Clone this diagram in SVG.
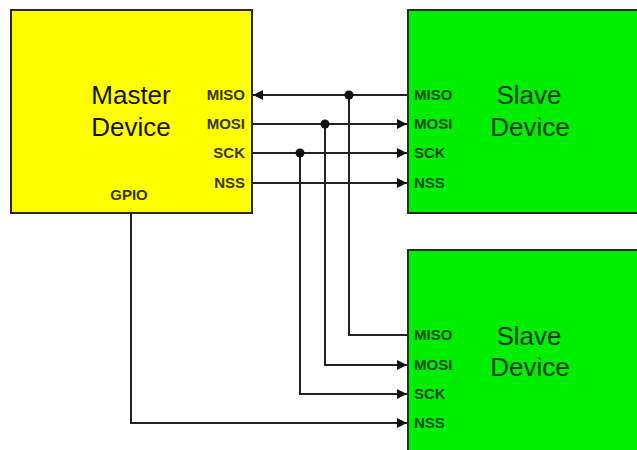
<svg xmlns="http://www.w3.org/2000/svg" width="637" height="450" viewBox="0 0 637 450">
<style>
.box{stroke:#2a2a2a;stroke-width:2}
.m{fill:#ffff00}
.s{fill:#00ee00}
.title{font-family:"Liberation Sans",Arial,sans-serif;font-size:26px;text-anchor:middle}
.mt{fill:#141400}
.st{fill:#073807}
.pin{font-family:"Liberation Sans",Arial,sans-serif;font-size:15px;font-weight:bold}
.mp{fill:#3a3600;text-anchor:end}
.sp{fill:#0b4a0b}
.w{stroke:#222;stroke-width:2;fill:none}
.dot{fill:#111}
</style>
<defs>
<marker id="ah" viewBox="0 0 10 10" refX="10" refY="5" markerWidth="10" markerHeight="10" markerUnits="userSpaceOnUse" orient="auto">
<path d="M0,0 L10,5 L0,10 z" fill="#111"/>
</marker>
</defs>
<rect width="637" height="450" fill="#ffffff"/>
<g id="master">
<rect class="box m" x="11" y="10" width="241" height="203"/>
<text class="title mt" x="131" y="104">Master</text>
<text class="title mt" x="131" y="136">Device</text>
<text class="pin mp" x="245" y="100">MISO</text>
<text class="pin mp" x="245" y="129">MOSI</text>
<text class="pin mp" x="245" y="158">SCK</text>
<text class="pin mp" x="245" y="188">NSS</text>
<text class="pin mp" x="129" y="200" style="text-anchor:middle">GPIO</text>
</g>
<g id="slave1">
<rect class="box s" x="408" y="10" width="240" height="203"/>
<text class="title st" x="529" y="104">Slave</text>
<text class="title st" x="530" y="136">Device</text>
<text class="pin sp" x="414" y="100">MISO</text>
<text class="pin sp" x="414" y="129">MOSI</text>
<text class="pin sp" x="414" y="158">SCK</text>
<text class="pin sp" x="414" y="188">NSS</text>
</g>
<g id="slave2">
<rect class="box s" x="408" y="250" width="240" height="210"/>
<text class="title st" x="529" y="345">Slave</text>
<text class="title st" x="530" y="376">Device</text>
<text class="pin sp" x="414" y="340">MISO</text>
<text class="pin sp" x="414" y="370">MOSI</text>
<text class="pin sp" x="414" y="399">SCK</text>
<text class="pin sp" x="414" y="428">NSS</text>
</g>
<g id="connectors">
<path class="w" d="M407,95 L253,95" marker-end="url(#ah)"/>
<path class="w" d="M252,124 L407,124" marker-end="url(#ah)"/>
<path class="w" d="M252,153 L407,153" marker-end="url(#ah)"/>
<path class="w" d="M252,183 L407,183" marker-end="url(#ah)"/>
<path class="w" d="M349,95 L349,335 L408,335"/>
<path class="w" d="M325,124 L325,365 L407,365" marker-end="url(#ah)"/>
<path class="w" d="M300,153 L300,394 L407,394" marker-end="url(#ah)"/>
<path class="w" d="M131,213 L131,423 L407,423" marker-end="url(#ah)"/>
<circle class="dot" cx="349" cy="95" r="4.5"/>
<circle class="dot" cx="325" cy="124" r="4.5"/>
<circle class="dot" cx="300" cy="153" r="4.5"/>
</g>
</svg>
